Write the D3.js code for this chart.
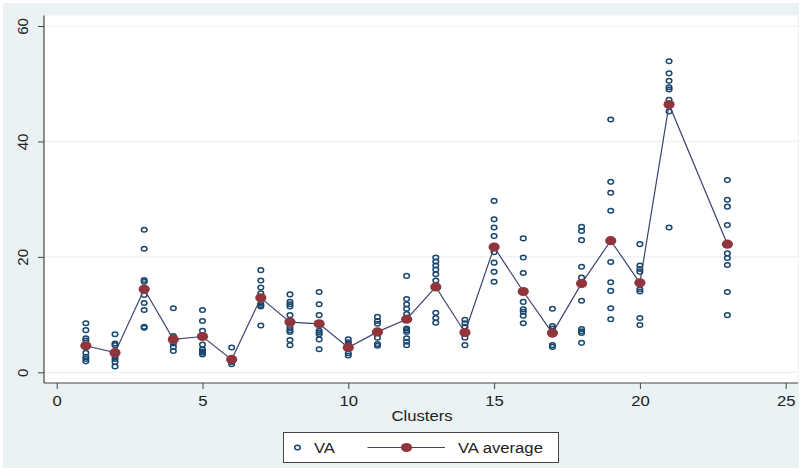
<!DOCTYPE html>
<html><head><meta charset="utf-8">
<script src="https://cdn.jsdelivr.net/npm/d3@7"></script>
<style>
html,body{margin:0;padding:0;background:#fff;}
svg{display:block;}
text{font-family:"Liberation Sans",Arial,sans-serif;fill:#222;}
</style></head>
<body>
<svg id="chart" width="801" height="470"></svg>
<script>
// ---- data ----
const clusters = [1,2,3,4,5,6,7,8,9,10,11,12,13,14,15,16,17,18,19,20,21,23];
const vaValues = [
  [8.5,7.3,5.9,5.5,3.4,2.7,2.3,1.9],
  [6.6,5.0,4.7,2.8,2.3,1.8,1.0],
  [24.7,21.4,16.0,15.7,13.4,12.0,10.8,7.9,7.7],
  [11.1,6.3,6.0,5.0,4.4,3.7],
  [10.8,8.9,7.2,4.8,4.0,3.6,3.4,3.1],
  [4.3,2.5,1.8,1.4],
  [17.7,15.9,14.7,13.7,11.9,11.6,11.4,8.1],
  [13.5,12.2,11.8,11.4,9.9,7.7,7.3,7.0,5.6,4.7],
  [13.9,11.8,9.9,7.2,6.9,6.6,5.7,4.0],
  [5.7,5.2,4.8,3.3,2.9],
  [9.6,8.9,8.4,6.0,4.9,4.6],
  [16.7,12.7,11.8,11.0,10.1,7.6,7.3,7.0,5.9,5.3,4.7],
  [19.9,19.2,18.5,17.8,17.0,15.9,10.3,9.4,8.6],
  [9.1,8.5,7.9,6.0,4.7],
  [29.7,26.5,25.1,23.6,20.8,19.0,17.4,15.7],
  [23.2,19.9,17.2,12.2,10.9,10.5,9.8,8.5],
  [11.0,8.0,7.6,4.7,4.4],
  [25.2,24.5,22.9,18.3,16.4,12.4,7.5,7.1,6.8,5.1],
  [43.8,33.0,31.1,28.0,19.1,15.6,14.1,11.1,9.2],
  [22.2,18.5,17.9,17.4,14.4,14.0,9.4,8.2],
  [53.9,51.8,50.5,49.4,49.0,47.2,45.2,25.1],
  [33.3,29.9,28.7,25.5,20.6,19.8,18.6,13.9,9.9]
];
const vaAverage = [4.6,3.4,14.4,5.7,6.2,2.2,12.9,8.7,8.4,4.3,7.0,9.2,14.8,6.9,21.7,14.0,6.8,15.4,22.8,15.5,46.4,22.2];
const xTicks = [0,5,10,15,20,25];
const yTicks = [0,20,40,60];
const xTitle = "Clusters";
const legendLabels = ["VA","VA average"];

// ---- drawing ----
const navy = "#1a476f", red = "#90353b", bg = "#eaf2f3", lineCol = "#3b4270";
const sx = 1.15;
const svg = d3.select("#chart");
svg.append("rect").attr("x",0).attr("y",0).attr("width",801).attr("height",470).attr("fill","#fff");
svg.append("rect").attr("x",3).attr("y",3).attr("width",796).attr("height",465).attr("fill",bg);

const x = d3.scaleLinear().domain([0,25]).range([56.7,785.7]);
const y = d3.scaleLinear().domain([0,60]).range([372.3,26]);
const plotL = 44, plotR = 798, plotT = 15.5, plotB = 383;

svg.append("rect").attr("x",plotL).attr("y",plotT).attr("width",plotR-plotL).attr("height",plotB-plotT).attr("fill","#fff");

svg.append("g").selectAll("line").data(yTicks).join("line")
  .attr("x1",plotL+1).attr("x2",plotR).attr("y1",d=>y(d)).attr("y2",d=>y(d))
  .attr("stroke",bg).attr("stroke-width",1.2);

const yAxis = d3.axisLeft(y).tickValues(yTicks).tickSize(6).tickPadding(8).tickFormat(d3.format("d"));
const gy = svg.append("g").attr("transform",`translate(${plotL},0)`).call(yAxis);
gy.select(".domain").attr("d",`M0,${plotT}V${plotB}`).attr("stroke","#444").attr("stroke-width",1.2);
gy.selectAll(".tick line").attr("stroke","#444").attr("x2",-6);
gy.selectAll(".tick text").attr("transform","rotate(-90)").attr("x",0).attr("y",-21)
  .attr("dy","0.35em").attr("text-anchor","middle").style("font-size","15px").attr("fill","#222");

const xAxis = d3.axisBottom(x).tickValues(xTicks).tickSize(6).tickPadding(7).tickFormat(d3.format("d"));
const gx = svg.append("g").attr("transform",`translate(0,${plotB})`).call(xAxis);
gx.select(".domain").attr("d",`M${plotL},0H${plotR}`).attr("stroke","#444").attr("stroke-width",1.2);
gx.selectAll(".tick line").attr("stroke","#444");
gx.selectAll(".tick text").style("font-size","14.5px").attr("fill","#222")
  .attr("transform",`scale(${sx},1)`);

function stext(px,py,str,anchor){
  return svg.append("text").attr("transform",`translate(${px},${py}) scale(${sx},1)`)
    .attr("text-anchor",anchor||"start").style("font-size","14.5px").text(str);
}
stext(422,421,xTitle,"middle");

const pts = [];
clusters.forEach((c,i)=>vaValues[i].forEach(v=>pts.push({c,v})));
svg.append("g").selectAll("ellipse").data(pts).join("ellipse")
  .attr("cx",d=>x(d.c)).attr("cy",d=>y(d.v)).attr("rx",2.8).attr("ry",2.3)
  .attr("fill","none").attr("stroke",navy).attr("stroke-width",1.5);

const avg = clusters.map((c,i)=>({c,v:vaAverage[i]}));
svg.append("path").datum(avg)
  .attr("d",d3.line().x(d=>x(d.c)).y(d=>y(d.v)))
  .attr("fill","none").attr("stroke",lineCol).attr("stroke-width",1.2);
svg.append("g").selectAll("ellipse").data(avg).join("ellipse")
  .attr("cx",d=>x(d.c)).attr("cy",d=>y(d.v)).attr("rx",5.6).attr("ry",4.6)
  .attr("fill",red);

svg.append("rect").attr("x",283.5).attr("y",432.5).attr("width",275).attr("height",30)
  .attr("fill","#fff").attr("stroke","#444").attr("stroke-width",1);
svg.append("ellipse").attr("cx",297.5).attr("cy",447.5).attr("rx",2.8).attr("ry",2.3).attr("fill","none")
  .attr("stroke",navy).attr("stroke-width",1.5);
stext(314,453,legendLabels[0]);
svg.append("line").attr("x1",367.5).attr("x2",445).attr("y1",447.5).attr("y2",447.5)
  .attr("stroke",lineCol).attr("stroke-width",1.2);
svg.append("ellipse").attr("cx",406.5).attr("cy",447.5).attr("rx",5.6).attr("ry",4.6).attr("fill",red);
stext(458,453,legendLabels[1]);
</script>
</body></html>
